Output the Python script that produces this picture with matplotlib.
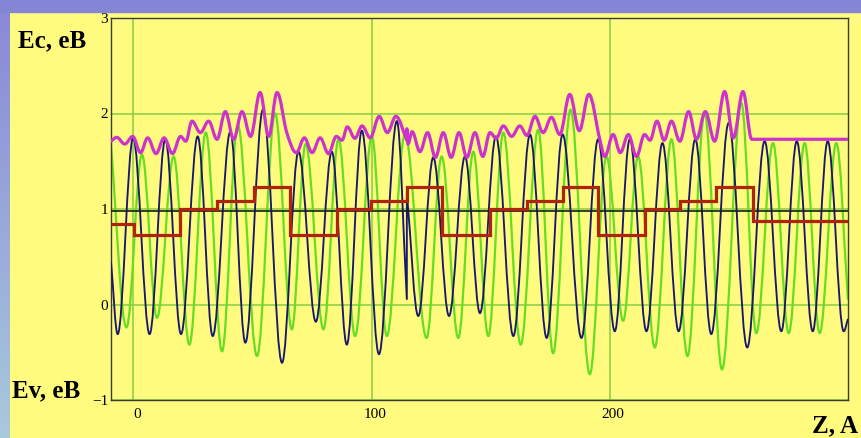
# -*- coding: UTF-8 -*-

"""Band profile of a superlattice: Ec envelope, two oscillating levels,
layer steps and the Fermi line
"""

#+++++++++++++++++++++++++++++++++++++++++++++++++++++++++++++++++++++++++++++#

import numpy as np
import matplotlib
matplotlib.use('Agg')
import matplotlib.pyplot as plt
from matplotlib.path import Path
from matplotlib.patches import PathPatch, Rectangle
from matplotlib.transforms import ScaledTranslation

#+++++++++++++++++++++++++++++++++++++++++++++++++++++++++++++++++++++++++++++#
# data  (z in A, energy in eB)

blue_z = [ -9.4, -6.6, -0.1, 6.8, 13.4, 20.0, 27.0, 33.3, 40.7, 47.0, 54.4,
  62.4, 69.3, 76.6, 83.3, 89.6, 95.9, 103.1, 110.6, 114.8, 114.8, 119.6,
  125.9, 132.5, 139.2, 145.5, 152.2, 159.5, 166.5, 173.5, 180.2, 188.1,
  195.1, 202.1, 208.4, 215.4, 222.1, 228.9, 235.9, 242.6, 249.9, 257.7,
  265.0, 272.0, 278.5, 285.2, 291.5, 298.2, 300.0 ]
blue_e = [ 0.45, -0.31, 1.745, -0.31, 1.73, -0.31, 1.76, -0.33, 1.81, -0.40,
  2.04, -0.61, 1.60, -0.18, 1.60, -0.42, 1.82, -0.52, 1.92, 0.05, 1.17,
  -0.12, 1.54, -0.12, 1.55, -0.09, 1.76, -0.33, 1.78, -0.35, 1.78, -0.35,
  1.73, -0.28, 1.73, -0.28, 1.69, -0.28, 1.73, -0.31, 1.90, -0.45, 1.71,
  -0.28, 1.71, -0.28, 1.71, -0.28, -0.15 ]

green_z = [ -9.4, -2.9, 3.6, 9.9, 16.9, 23.5, 30.4, 37.2, 43.8, 51.9, 59.5,
  66.5, 72.3, 79.8, 86.1, 93.1, 100.1, 106.4, 114.0, 123.1, 129.4, 136.4,
  142.7, 149.0, 155.3, 162.6, 169.9, 176.2, 183.5, 191.6, 198.6, 205.6,
  211.9, 218.9, 225.9, 232.6, 239.8, 247.1, 255.2, 261.5, 268.5, 275.1,
  281.8, 288.1, 295.1, 300.0 ]
green_e = [ 1.66, -0.24, 1.57, -0.14, 1.55, -0.42, 1.80, -0.49, 1.88, -0.54,
  2.00, -0.26, 1.68, -0.26, 1.73, -0.33, 1.76, -0.33, 1.78, -0.35, 1.55,
  -0.35, 1.60, -0.33, 1.80, -0.42, 1.83, -0.51, 2.04, -0.73, 1.55, -0.17,
  1.55, -0.45, 1.73, -0.54, 2.00, -0.68, 2.11, -0.30, 1.69, -0.30, 1.69,
  -0.30, 1.69, 0.05 ]

ec_z = [ -9.4, -7.0, -3.6, -0.3, 3.0, 6.0, 9.5, 12.9, 16.4, 19.8, 22.0, 24.6,
  28.1, 31.6, 35.1, 38.6, 42.1, 45.6, 49.2, 53.2, 56.8, 60.3, 64.4, 68.4,
  71.8, 75.0, 78.4, 81.9, 85.2, 87.6, 89.8, 93.0, 96.0, 99.4, 103.2, 106.6,
  110.2, 114.8, 114.8, 115.3, 117.0, 120.3, 123.5, 126.8, 130.1, 133.4,
  136.7, 140.0, 143.4, 146.7, 149.7, 152.3, 155.3, 158.8, 162.2, 165.2,
  168.6, 172.0, 175.5, 179.0, 183.2, 187.2, 191.2, 195.8, 197.9, 201.4,
  204.4, 207.8, 211.2, 214.6, 216.9, 219.8, 222.8, 225.9, 229.4, 233.1,
  236.4, 240.1, 244.0, 248.2, 251.9, 255.9, 259.6, 300.0 ]
ec_e = [ 1.71, 1.75, 1.68, 1.76, 1.59, 1.745, 1.58, 1.745, 1.58, 1.76, 1.71,
  1.92, 1.80, 1.92, 1.73, 2.02, 1.73, 2.02, 1.76, 2.22, 1.76, 2.22, 1.80,
  1.59, 1.745, 1.59, 1.745, 1.58, 1.76, 1.72, 1.86, 1.74, 1.87, 1.745, 1.97,
  1.80, 1.97, 1.72, 1.84, 1.68, 1.81, 1.60, 1.80, 1.54, 1.80, 1.54, 1.80,
  1.54, 1.80, 1.55, 1.80, 1.74, 1.87, 1.76, 1.87, 1.77, 1.97, 1.80, 1.96,
  1.78, 2.20, 1.82, 2.20, 1.73, 1.55, 1.78, 1.59, 1.78, 1.55, 1.78, 1.72,
  1.92, 1.72, 1.92, 1.71, 2.02, 1.73, 2.02, 1.71, 2.23, 1.745, 2.23, 1.73,
  1.73 ]

step_z = [ -9.4, 0.1, 19.7, 35.3, 50.7, 65.8, 85.4, 99.8, 114.8, 129.4, 149.7,
  165.1, 180.2, 195.1, 214.7, 229.4, 244.7, 260.1, 300.0 ]
step_e = [ 0.84, 0.73, 1.0, 1.08, 1.23, 0.73, 1.0, 1.08, 1.23, 0.73, 1.0,
  1.08, 1.23, 0.73, 1.0, 1.08, 1.23, 0.87 ]

fermi_e = 0.98

x_ticks = [ 0, 100, 200 ]
y_ticks = [ -1, 0, 1, 2, 3 ]

#+++++++++++++++++++++++++++++++++++++++++++++++++++++++++++++++++++++++++++++#

YELLOW = '#fffb7f'
BAR = '#8585d5'
GRID = '#88cc44'
SERIF = 'Liberation Serif'

#+++++++++++++++++++++++++++++++++++++++++++++++++++++++++++++++++++++++++++++#

def smooth_path( xs, ys, c = 0.36 ):

  """Curve through the read points, flat at every extremum; equal z gives
  a straight jump
  """

  xs = np.asarray(xs, float)
  ys = np.asarray(ys, float)
  n = len(xs)

  slopes = np.zeros(n)
  for i in range(n):
    prev_ok = i > 0 and xs[i-1] != xs[i]
    next_ok = i < n - 1 and xs[i+1] != xs[i]
    if prev_ok and next_ok:
      d0 = ys[i] - ys[i-1]
      d1 = ys[i+1] - ys[i]
      if d0 * d1 > 0:
        slopes[i] = (ys[i+1] - ys[i-1]) / (xs[i+1] - xs[i-1])
    elif prev_ok:
      slopes[i] = (ys[i] - ys[i-1]) / (xs[i] - xs[i-1])
    elif next_ok:
      slopes[i] = (ys[i+1] - ys[i]) / (xs[i+1] - xs[i])

  verts = [ (xs[0], ys[0]) ]
  codes = [ Path.MOVETO ]
  for i in range(1, n):
    dx = xs[i] - xs[i-1]
    if dx == 0:
      verts.append((xs[i], ys[i]))
      codes.append(Path.LINETO)
      continue
    h = c * dx
    verts += [
      (xs[i-1] + h, ys[i-1] + h * slopes[i-1]),
      (xs[i] - h, ys[i] - h * slopes[i]),
      (xs[i], ys[i]) ]
    codes += [ Path.CURVE4 ] * 3

  return Path(verts, codes)

#+++++++++++++++++++++++++++++++++++++++++++++++++++++++++++++++++++++++++++++#

if __name__ == '__main__':

  W, H = 862, 438

  fig = plt.figure(figsize = (W / 100, H / 100), dpi = 100, facecolor = YELLOW)

  # frame decoration: top bar and left strip
  #---------------------------------------------------------------------------#

  fig.patches.append(Rectangle((0, 1 - 12 / H), 1, 12 / H,
    transform = fig.transFigure, color = BAR, zorder = 0))

  strip = fig.add_axes([0, 0, 10 / W, 1 - 12 / H])
  top_c = np.array(matplotlib.colors.to_rgb('#8a8ad8'))
  bot_c = np.array(matplotlib.colors.to_rgb('#a8c8dc'))
  t = np.linspace(0, 1, 64)[:, None]
  strip.imshow((top_c * (1 - t) + bot_c * t)[:, None, :], aspect = 'auto')
  strip.axis('off')

  # plot area
  #---------------------------------------------------------------------------#

  ax = fig.add_axes([111 / W, 38 / H, (848 - 111) / W, (400 - 18) / H])
  ax.set_facecolor(YELLOW)
  ax.set_xlim(-9.4, 300)
  ax.set_ylim(-1, 3)

  ax.set_xticks(x_ticks)
  ax.set_yticks(y_ticks)
  ax.grid(True, color = GRID, lw = 1.1)
  ax.set_axisbelow(True)

  for s in ax.spines.values():
    s.set_color('#3a3a3a')
    s.set_linewidth(1.0)

  ax.tick_params(length = 0, labelsize = 11, labelfontfamily = SERIF)
  ax.tick_params(axis = 'x', pad = 6)
  ax.tick_params(axis = 'y', pad = 2)
  for lab in ax.get_xticklabels():
    lab.set_transform(lab.get_transform()
      + ScaledTranslation(3.5 / 100, 0, fig.dpi_scale_trans))

  ax.add_patch(PathPatch(smooth_path(green_z, green_e), fill = False,
    edgecolor = '#66dd22', lw = 1.6, zorder = 2))
  ax.add_patch(PathPatch(smooth_path(blue_z, blue_e), fill = False,
    edgecolor = '#181870', lw = 1.35, zorder = 3))
  ax.axhline(fermi_e, color = '#1a1a1a', lw = 1.2, zorder = 4)
  ax.stairs(step_e, step_z, baseline = None, color = '#b0240e', lw = 2.3,
    zorder = 5)
  ax.add_patch(PathPatch(smooth_path(ec_z, ec_e), fill = False,
    edgecolor = '#cc33cc', lw = 2.3, zorder = 6, capstyle = 'round',
    joinstyle = 'round'))

  # axis captions
  #---------------------------------------------------------------------------#

  cap = dict(fontfamily = SERIF, fontweight = 'bold', fontsize = 18,
    va = 'baseline')
  fig.text(18 / W, 1 - 47 / H, 'Ec, eB', **cap)
  fig.text(12 / W, 1 - 397 / H, 'Ev, eB', **cap)
  fig.text(858 / W, 1 - 432 / H, 'Z, A', ha = 'right', **cap)

  fig.savefig('out.png', dpi = 100, facecolor = fig.get_facecolor())
